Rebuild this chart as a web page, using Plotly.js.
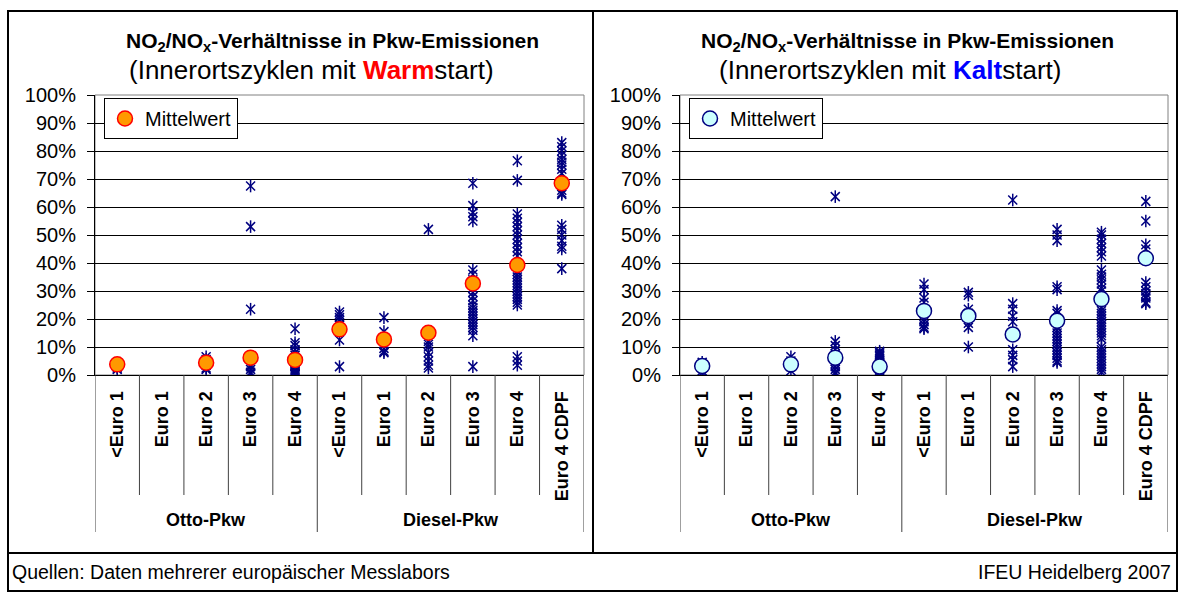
<!DOCTYPE html>
<html>
<head>
<meta charset="utf-8">
<script src="https://cdn.plot.ly/plotly-3.0.1.min.js"></script>
<style>html,body{margin:0;padding:0;background:#fff;}#chart{width:1184px;height:592px;}</style>
</head>
<body>
<div id="chart"></div>
<script>
// ---------- data ----------
const categories = ['<Euro 1','Euro 1','Euro 2','Euro 3','Euro 4','<Euro 1','Euro 1','Euro 2','Euro 3','Euro 4','Euro 4 CDPF'];
const groups = ['Otto-Pkw','Otto-Pkw','Otto-Pkw','Otto-Pkw','Otto-Pkw','Diesel-Pkw','Diesel-Pkw','Diesel-Pkw','Diesel-Pkw','Diesel-Pkw','Diesel-Pkw'];

// Warmstart single measurements (%), one list per category
const warmValues = [
  [4, 3, 2.5, 2],
  [],
  [6.5, 5.5, 4.5, 3.5, 2.5, 2],
  [67.5, 53, 23.5, 3.5, 3, 2, 1, 0.5],
  [16.5, 11.5, 10.5, 9, 8, 7, 6, 5, 4.5, 4, 3.5, 3, 2.5, 2, 1.5, 1, 0.5, 0.3],
  [22.5, 21.5, 20.5, 19.5, 18, 12.5, 3],
  [20.5, 15.5, 13, 11, 9.5, 8.5, 8],
  [52, 12, 11, 10, 8, 6.5, 5, 3.5, 2.5],
  [68.5, 60.5, 58, 56.5, 55, 37.5, 36, 34, 31, 29.5, 28, 26.5, 25, 24, 23, 22, 21, 20, 19, 18, 17, 16, 14, 3],
  [76.5, 69.5, 57.5, 56, 54.5, 53, 51.5, 50, 48.5, 47, 45.5, 44, 42.5, 37, 36, 35, 34, 33, 32, 31, 30, 29, 28, 27, 26, 25, 6.5, 5, 3.5],
  [83, 81.5, 80, 78.5, 77, 76, 75, 73.5, 72, 66, 65, 64.5, 53.5, 52, 50, 48, 46, 45, 38]
];
const warmMeans = [3.8, null, 4.4, 6.2, 5.4, 16.3, 12.7, 15.1, 32.7, 39.3, 68.5];

// Kaltstart single measurements (%)
const coldValues = [
  [4.5, 3.5, 2.5, 1.5, 0.8],
  [],
  [6.5, 5, 4, 3, 1.5],
  [63.7, 12, 10.5, 9, 7.5, 5, 4, 3, 2, 1, 0.5],
  [8.5, 8, 7.5, 7, 6.5, 6, 5, 4.5, 4, 3.5, 3, 2.5, 2, 1.5, 1, 0.5, 0],
  [32.5, 30.5, 27.5, 26, 20, 19, 18, 17, 16.5],
  [29.5, 28.5, 23.5, 22, 18.5, 17, 10],
  [62.5, 25.5, 23.5, 21, 19, 9, 7, 5.5, 3],
  [52, 50, 48, 31.5, 30.5, 23, 22, 17, 16, 15, 14, 13, 12, 11, 10, 9, 8, 7, 6, 5, 4.5],
  [51, 50, 48.5, 47, 45.5, 44, 42.5, 37.5, 36, 35, 34, 32.5, 31, 30, 24, 23, 22, 21, 20, 19, 18, 17, 16, 15, 14, 13, 10, 9, 8, 7, 6, 5, 4, 3, 2, 1],
  [62, 55, 46.5, 45, 33, 31.5, 30, 29, 28, 27.5, 26, 25.5]
];
const coldMeans = [3.2, null, 3.8, 6.2, 3.0, 22.9, 21.1, 14.5, 19.4, 27.1, 41.7];

const yTickValues = [0,10,20,30,40,50,60,70,80,90,100];
const legendLabel = 'Mittelwert';
const titleLine1 = 'NO<sub>2</sub>/NO<sub>x</sub>-Verhältnisse in Pkw-Emissionen';
const footerLeft = 'Quellen: Daten mehrerer europäischer Messlabors';
const footerRight = 'IFEU Heidelberg 2007';

// ---------- build ----------
const W = 1184, H = 592;
const FONT = 'Liberation Sans, Arial, sans-serif';
const fx = px => px / W;
const fy = py => 1 - py / H;
const esc = s => s.replace(/&/g,'&amp;').replace(/</g,'&lt;').replace(/>/g,'&gt;');
const idx = categories.map((c,i)=>i);

function flatten(vals){
  const xs=[], ys=[];
  vals.forEach((arr,i)=>arr.forEach(v=>{xs.push(i); ys.push(v);}));
  return {xs, ys};
}
const wf = flatten(warmValues), cf = flatten(coldValues);
const NAVY = '#000080';

function starTraces(f, xa, ya){
  return ['x-thin-open','line-ns-open'].map(sym => ({
    type:'scatter', mode:'markers', x:f.xs, y:f.ys, xaxis:xa, yaxis:ya,
    showlegend:false, hoverinfo:'skip',
    marker:{symbol:sym, size:9, color:NAVY, line:{color:NAVY, width:1.5}}
  }));
}

const traces = [
  ...starTraces(wf,'x','y'),
  {type:'scatter', mode:'markers', x:idx, y:warmMeans, xaxis:'x', yaxis:'y', name:legendLabel, legend:'legend',
   marker:{symbol:'circle', size:15, color:'#FF9900', line:{color:'#FF0000', width:1.5}}},
  ...starTraces(cf,'x2','y2'),
  {type:'scatter', mode:'markers', x:idx, y:coldMeans, xaxis:'x2', yaxis:'y2', name:legendLabel, legend:'legend2',
   marker:{symbol:'circle', size:15, color:'#CCFFFF', line:{color:NAVY, width:1.5}}}
];

const plots = [
  {x0:95, x1:584, titleX:332, subX:312, word:'Warm', color:'#FF0000', legendX:104},
  {x0:680, x1:1168, titleX:907, subX:890, word:'Kalt', color:'#0000FF', legendX:689}
];
const PT = 95, PB = 375, CATB = 495, GRPB = 532;

function xaxisCfg(p, anchor){
  return {domain:[fx(p.x0), fx(p.x1)], anchor:anchor, range:[-0.5, categories.length-0.5],
    tickmode:'array', tickvals:idx, ticktext:categories.map(c=>'<b>'+esc(c)+'</b>'),
    tickangle:-90, ticks:'', showgrid:false, zeroline:false, showline:true, linecolor:'#000', linewidth:1,
    tickfont:{family:FONT, size:18, color:'#000'}, ticklabelstandoff:8, fixedrange:true};
}
function yaxisCfg(anchor){
  return {domain:[fy(PB), fy(PT)], anchor:anchor, range:[0,100], tickmode:'array', tickvals:yTickValues,
    ticktext:yTickValues.map(v=>v+'%'), ticks:'outside', ticklen:7, tickcolor:'#000', tickwidth:1,
    showline:true, linecolor:'#000', linewidth:1, showgrid:true, gridcolor:'#000', gridwidth:1, zeroline:false,
    tickfont:{family:FONT, size:20, color:'#000'}, ticklabelstandoff:7, fixedrange:true};
}

const shapes = [];
const annotations = [];
const line = (x0,y0,x1,y1,color,width,xref,yref)=>({type:'line', xref:xref||'paper', yref:yref||'paper',
  x0:x0, y0:y0, x1:x1, y1:y1, line:{color:color, width:width}, layer:'above'});

// outer frame
shapes.push({type:'rect', xref:'paper', yref:'paper', x0:fx(8), x1:fx(1177), y0:fy(591), y1:fy(11), line:{color:'#000', width:2}});
shapes.push(line(fx(593), fy(11), fx(593), fy(553), '#000', 2));
shapes.push(line(fx(8), fy(553), fx(1177), fy(553), '#000', 2));

plots.forEach((p,k)=>{
  const xr = k===0 ? 'x' : 'x2';
  shapes.push({type:'rect', xref:'paper', yref:'paper', x0:fx(p.x0), x1:fx(p.x1), y0:fy(PB), y1:fy(PT),
    line:{color:'#808080', width:1}, layer:'below'});
  for(let i=0;i<=categories.length;i++){
    const xb = i-0.5;
    const isGroup = i===0 || i===categories.length || groups[i]!==groups[i-1];
    shapes.push(line(xb, fy(PB), xb, fy(isGroup?GRPB:CATB), '#404040', 1, xr, 'paper'));
  }
  const uniq = [...new Set(groups)];
  uniq.forEach(g=>{
    const ids = idx.filter(i=>groups[i]===g);
    const c = (ids[0]+ids[ids.length-1])/2;
    annotations.push({xref:xr, yref:'paper', x:c, y:fy(520), text:'<b>'+g+'</b>', showarrow:false,
      xanchor:'center', yanchor:'middle', font:{family:FONT, size:18, color:'#000'}});
  });
  annotations.push({xref:'paper', yref:'paper', x:fx(p.titleX), y:fy(42), text:'<b>'+titleLine1+'</b>', showarrow:false,
    xanchor:'center', yanchor:'middle', font:{family:FONT, size:21, color:'#000'}});
  annotations.push({xref:'paper', yref:'paper', x:fx(p.subX), y:fy(70),
    text:'(Innerortszyklen mit <b><span style="color:'+p.color+'">'+p.word+'</span></b>start)', showarrow:false,
    xanchor:'center', yanchor:'middle', font:{family:FONT, size:26, color:'#000'}});
});

annotations.push({xref:'paper', yref:'paper', x:fx(10), y:fy(572), text:footerLeft, showarrow:false,
  xanchor:'left', yanchor:'middle', font:{family:FONT, size:19.5, color:'#000'}});
annotations.push({xref:'paper', yref:'paper', x:fx(1173), y:fy(572), text:footerRight, showarrow:false,
  xanchor:'right', yanchor:'middle', font:{family:FONT, size:19.5, color:'#000'}});

const legendCfg = p => ({x:fx(p.legendX), y:fy(98), xanchor:'left', yanchor:'top', bgcolor:'#fff',
  bordercolor:'#000', borderwidth:1, font:{family:FONT, size:20, color:'#000'}, itemwidth:30,
  tracegroupgap:0});

const layout = {
  width:W, height:H, margin:{l:0, r:0, t:0, b:0}, paper_bgcolor:'#fff', plot_bgcolor:'#fff',
  font:{family:FONT, color:'#000'}, hovermode:false,
  xaxis:xaxisCfg(plots[0],'y'), yaxis:yaxisCfg('x'),
  xaxis2:xaxisCfg(plots[1],'y2'), yaxis2:yaxisCfg('x2'),
  legend:legendCfg(plots[0]), legend2:legendCfg(plots[1]),
  shapes:shapes, annotations:annotations
};

Plotly.newPlot('chart', traces, layout, {staticPlot:true, displayModeBar:false});
</script>
</body>
</html>
